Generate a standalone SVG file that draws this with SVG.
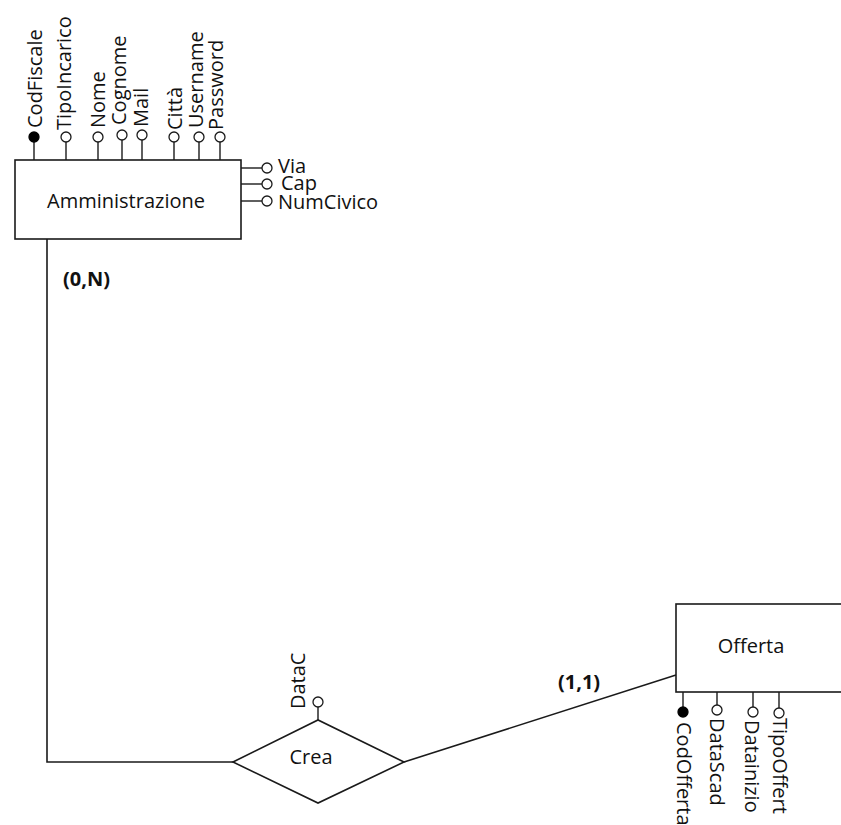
<svg xmlns="http://www.w3.org/2000/svg" width="841" height="825" viewBox="0 0 841 825">
  <style>
    .box { fill: #fff; stroke: #1a1a1a; stroke-width: 1.6; }
    .ln { fill: none; stroke: #1a1a1a; stroke-width: 1.6; }
    .stem { stroke: #1a1a1a; stroke-width: 1.4; }
    .att { fill: #fff; stroke: #1a1a1a; stroke-width: 1.3; }
    .key { fill: #000; stroke: #000; stroke-width: 1.3; }
    text { font-family: "Open Sans", "DejaVu Sans", sans-serif; font-size: 20px; fill: #111; }
    .card { font-weight: bold; }
    .mid { text-anchor: middle; }
  </style>
  <rect width="841" height="825" fill="#fff"/>

  <!-- connectors -->
  <g id="connectors">
    <polyline class="ln" points="47,239 47,762 233,762"/>
    <line class="ln" x1="404" y1="762" x2="676" y2="675"/>
    <text class="card" x="63" y="286">(0,N)</text>
    <text class="card" x="558" y="689">(1,1)</text>
  </g>

  <!-- entity Amministrazione -->
  <g id="amministrazione">
    <rect class="box" x="15" y="160" width="226" height="79"/>
    <text class="mid" x="126" y="208">Amministrazione</text>

    <g id="attr-codfiscale">
      <line class="stem" x1="34" y1="142" x2="34" y2="160"/>
      <circle class="key" cx="34" cy="137" r="5"/>
      <text transform="translate(42,128) rotate(-90)">CodFiscale</text>
    </g>
    <g id="attr-tipoincarico">
      <line class="stem" x1="66" y1="142" x2="66" y2="160"/>
      <circle class="att" cx="66" cy="137" r="5"/>
      <text transform="translate(71,130) rotate(-90)">TipoIncarico</text>
    </g>
    <g id="attr-nome">
      <line class="stem" x1="98" y1="142" x2="98" y2="160"/>
      <circle class="att" cx="98" cy="137" r="5"/>
      <text transform="translate(105,128) rotate(-90)">Nome</text>
    </g>
    <g id="attr-cognome">
      <line class="stem" x1="122" y1="140" x2="122" y2="160"/>
      <circle class="att" cx="122" cy="135" r="5"/>
      <text transform="translate(126,125) rotate(-90)">Cognome</text>
    </g>
    <g id="attr-mail">
      <line class="stem" x1="142" y1="140" x2="142" y2="160"/>
      <circle class="att" cx="142" cy="135" r="5"/>
      <text transform="translate(148,127) rotate(-90)">Mail</text>
    </g>
    <g id="attr-citta">
      <line class="stem" x1="174" y1="142" x2="174" y2="160"/>
      <circle class="att" cx="174" cy="137" r="5"/>
      <text transform="translate(182,130) rotate(-90)">Città</text>
    </g>
    <g id="attr-username">
      <line class="stem" x1="199" y1="142" x2="199" y2="160"/>
      <circle class="att" cx="199" cy="137" r="5"/>
      <text transform="translate(203,128) rotate(-90)">Username</text>
    </g>
    <g id="attr-password">
      <line class="stem" x1="220" y1="142" x2="220" y2="160"/>
      <circle class="att" cx="220" cy="137" r="5"/>
      <text transform="translate(223,130) rotate(-90)">Password</text>
    </g>

    <g id="attr-via">
      <line class="stem" x1="241" y1="168" x2="262" y2="168"/>
      <circle class="att" cx="267" cy="168" r="5"/>
      <text x="278" y="173">Via</text>
    </g>
    <g id="attr-cap">
      <line class="stem" x1="241" y1="184" x2="262" y2="184"/>
      <circle class="att" cx="267" cy="184" r="5"/>
      <text x="281" y="190">Cap</text>
    </g>
    <g id="attr-numcivico">
      <line class="stem" x1="241" y1="201" x2="262" y2="201"/>
      <circle class="att" cx="267" cy="201" r="5"/>
      <text x="278" y="209">NumCivico</text>
    </g>
  </g>

  <!-- relationship Crea -->
  <g id="crea">
    <polygon class="box" points="233,762 318,720 404,762 318,803"/>
    <text class="mid" x="311" y="764">Crea</text>
    <g id="attr-datac">
      <line class="stem" x1="318" y1="707" x2="318" y2="720"/>
      <circle class="att" cx="318" cy="702" r="5"/>
      <text transform="translate(305,709) rotate(-90)">DataC</text>
    </g>
  </g>

  <!-- entity Offerta -->
  <g id="offerta">
    <rect class="box" x="676" y="604" width="200" height="88"/>
    <text class="mid" x="751" y="653">Offerta</text>
    <g id="attr-codofferta">
      <line class="stem" x1="683" y1="692" x2="683" y2="707"/>
      <circle class="key" cx="683" cy="712" r="5"/>
      <text transform="translate(677,722) rotate(90)">CodOfferta</text>
    </g>
    <g id="attr-datascad">
      <line class="stem" x1="717" y1="692" x2="717" y2="705"/>
      <circle class="att" cx="717" cy="710" r="5"/>
      <text transform="translate(710,718) rotate(90)">DataScad</text>
    </g>
    <g id="attr-datainizio">
      <line class="stem" x1="753" y1="692" x2="753" y2="707"/>
      <circle class="att" cx="753" cy="712" r="5"/>
      <text transform="translate(745,720) rotate(90)">Datainizio</text>
    </g>
    <g id="attr-tipoofferta">
      <line class="stem" x1="779" y1="692" x2="779" y2="708"/>
      <circle class="att" cx="779" cy="713" r="5"/>
      <text transform="translate(773,718) rotate(90)">TipoOffert</text>
    </g>
  </g>
</svg>
